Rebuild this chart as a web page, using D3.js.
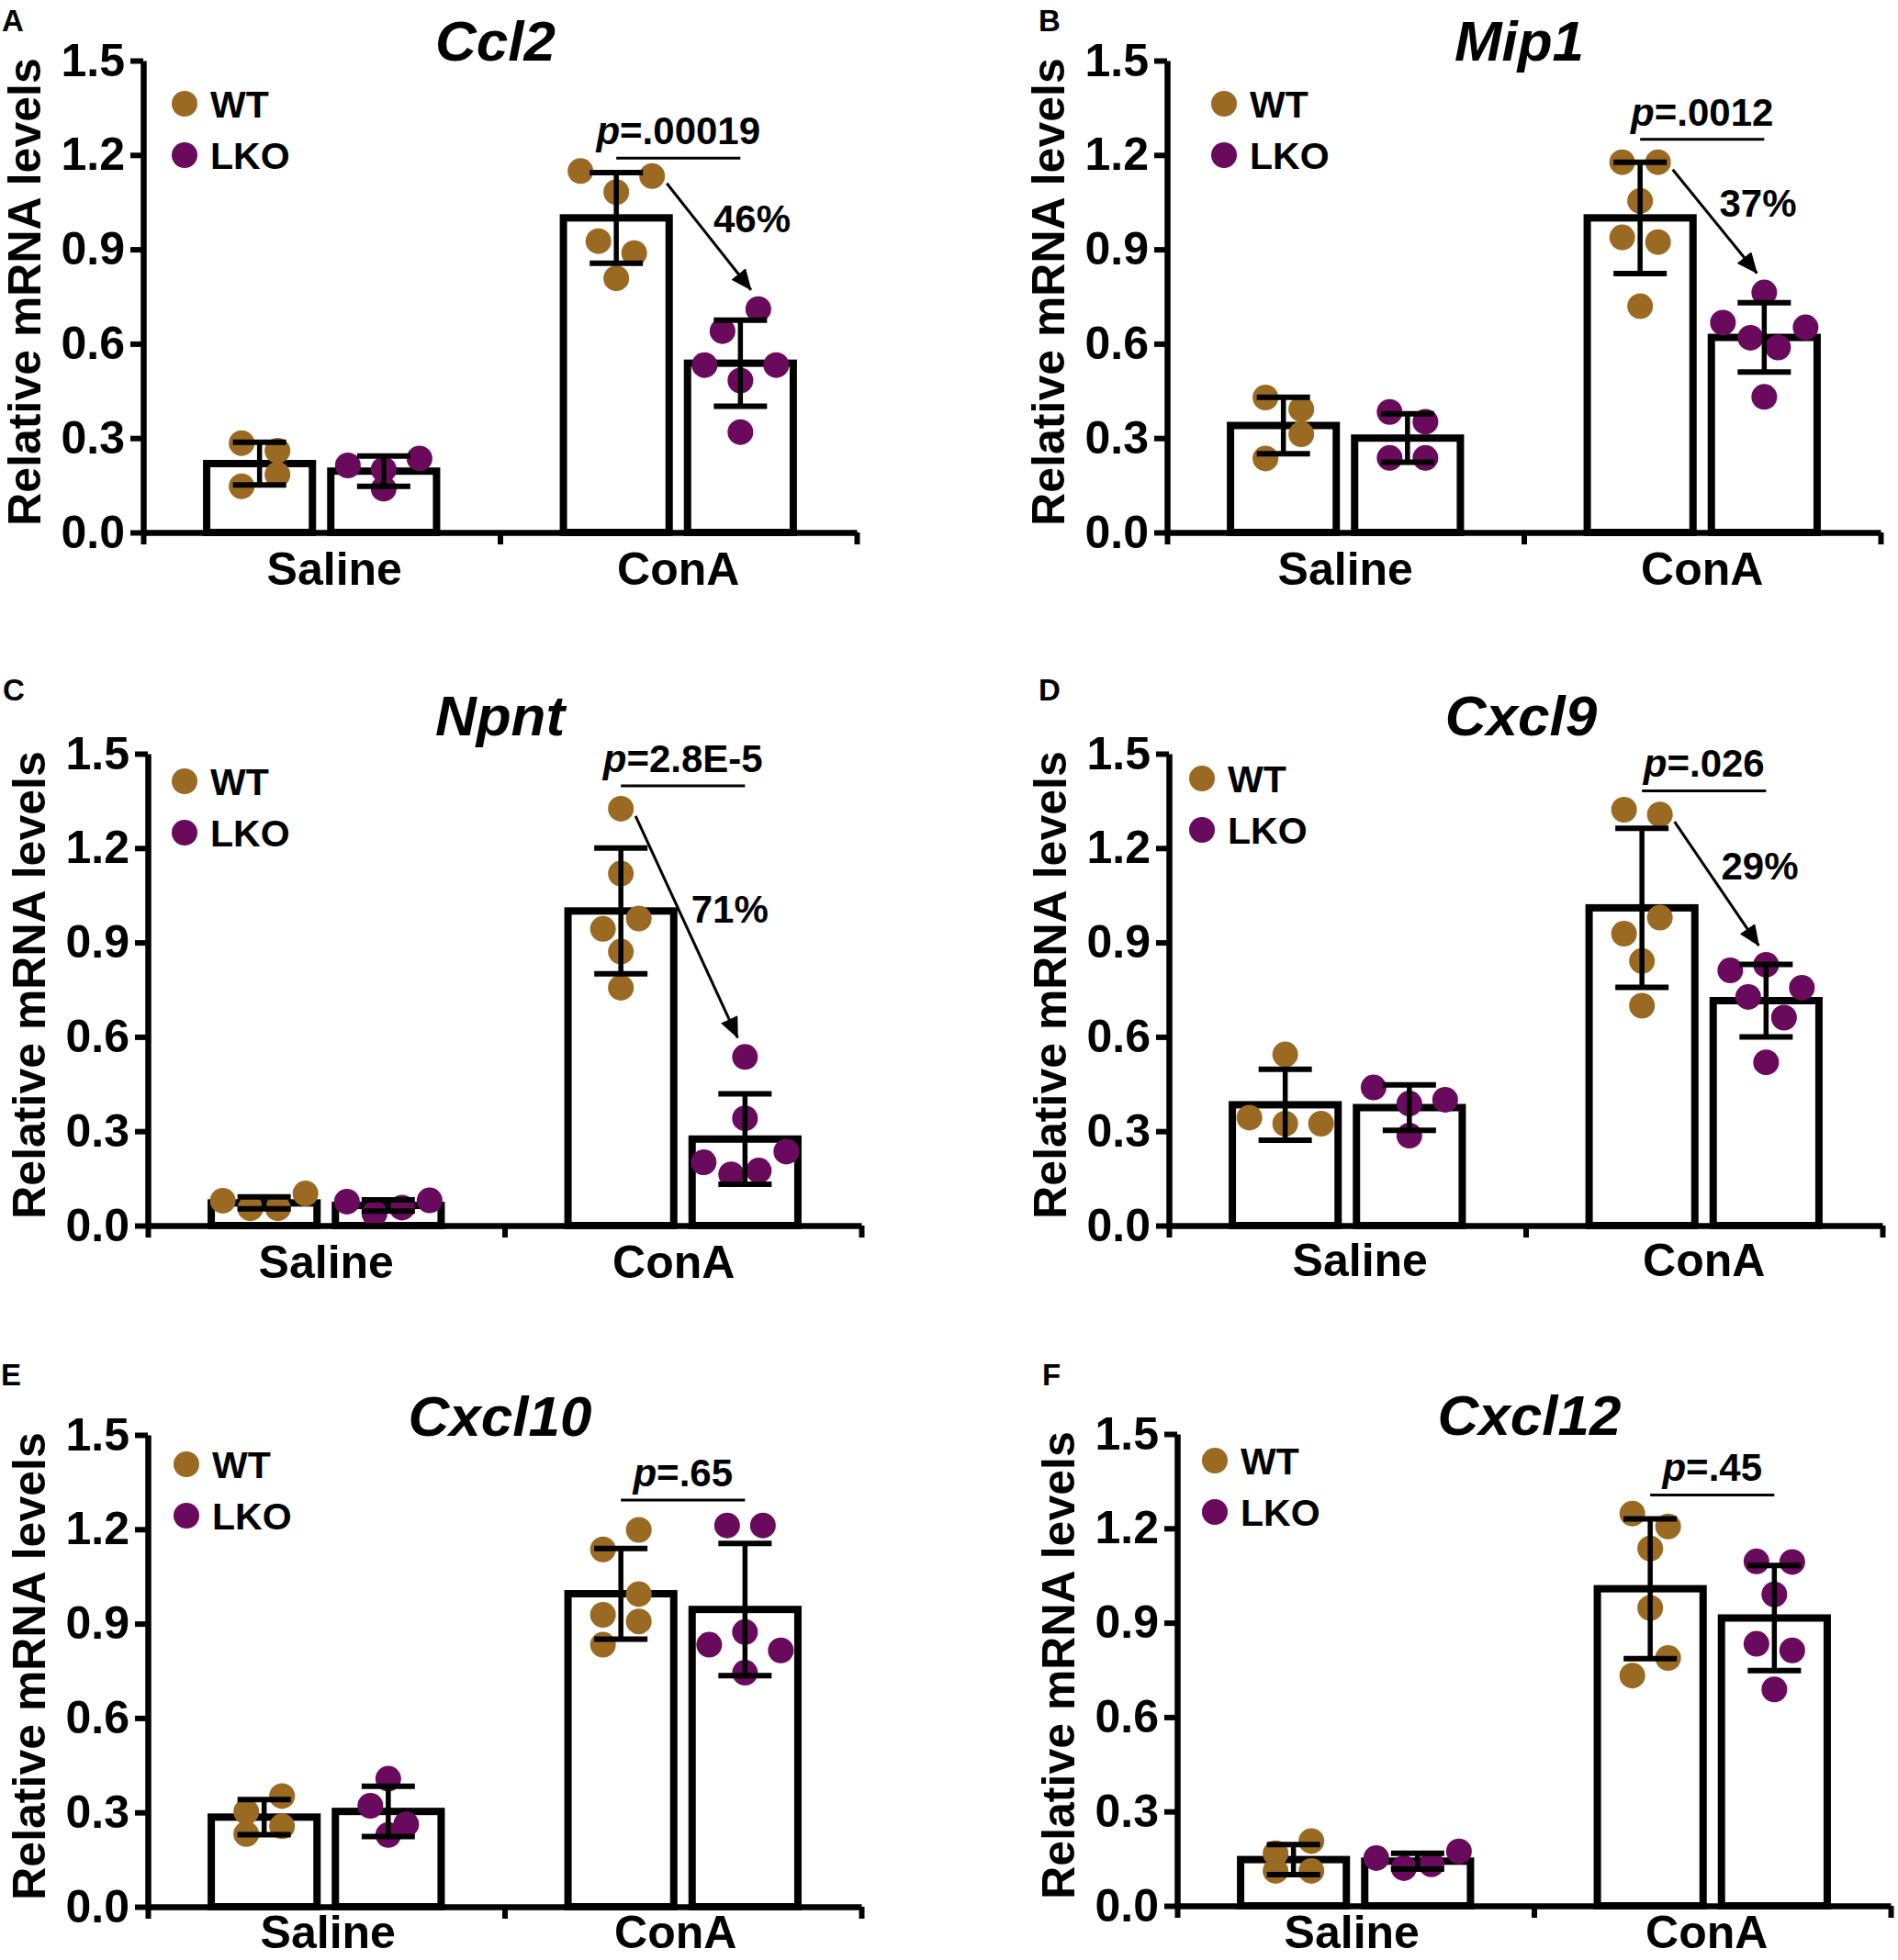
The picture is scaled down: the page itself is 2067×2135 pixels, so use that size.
<!DOCTYPE html>
<html><head><meta charset="utf-8">
<script src="https://cdn.jsdelivr.net/npm/d3@7"></script>
<style>
body{margin:0;background:#fff}
svg{display:block}
text{font-family:"Liberation Sans",Arial,sans-serif;font-weight:bold;fill:#000}
</style>
</head><body>
<svg id="chart" width="2067" height="2135"></svg>
<script>
// ---------------- DATA ----------------
const categories = ["Saline", "ConA"];
const groups = ["WT", "LKO"];
const yTicks = [0, 0.3, 0.6, 0.9, 1.2, 1.5];
const genes = ["Ccl2", "Mip1", "Npnt", "Cxcl9", "Cxcl10", "Cxcl12"];
const panelLetters = ["A", "B", "C", "D", "E", "F"];

// bar order: Saline-WT, Saline-LKO, ConA-WT, ConA-LKO
const meanCcl2 = [0.219, 0.195, 1.0, 0.538];
const sdCcl2 = [0.068, 0.048, 0.144, 0.137];
const pointsCcl2 = [[0.284, 0.260, 0.147, 0.184], [0.213, 0.200, 0.235, 0.139],
  [1.149, 1.082, 1.133, 0.926, 0.888, 0.808], [0.640, 0.710, 0.532, 0.483, 0.532, 0.319]];

const meanMip1 = [0.34, 0.30, 1.0, 0.62];
const sdMip1 = [0.09, 0.077, 0.177, 0.11];
const pointsMip1 = [[0.429, 0.392, 0.235, 0.312], [0.383, 0.352, 0.237, 0.237],
  [1.177, 1.177, 1.054, 0.938, 0.923, 0.719], [0.763, 0.667, 0.619, 0.588, 0.652, 0.431]];

const meanNpnt = [0.072, 0.064, 1.0, 0.275];
const sdNpnt = [0.019, 0.018, 0.2, 0.144];
const pointsNpnt = [[0.079, 0.055, 0.055, 0.102], [0.076, 0.038, 0.057, 0.080],
  [1.325, 1.119, 0.943, 0.976, 0.871, 0.756], [0.536, 0.341, 0.201, 0.163, 0.175, 0.235]];

const meanCxcl9 = [0.384, 0.375, 1.01, 0.715];
const sdCxcl9 = [0.1125, 0.072, 0.253, 0.115];
const pointsCxcl9 = [[0.544, 0.343, 0.324, 0.324], [0.439, 0.388, 0.400, 0.286],
  [1.322, 1.307, 0.928, 0.979, 0.841, 0.699], [0.811, 0.829, 0.756, 0.727, 0.661, 0.519]];

const meanCxcl10 = [0.285, 0.303, 0.995, 0.945];
const sdCxcl10 = [0.056, 0.08, 0.144, 0.21];
const pointsCxcl10 = [[0.302, 0.352, 0.231, 0.256], [0.407, 0.321, 0.262, 0.228],
  [1.136, 1.198, 0.928, 0.994, 0.833, 0.907], [1.212, 1.212, 0.833, 0.873, 0.815, 0.744]];

const meanCxcl12 = [0.147, 0.142, 1.008, 0.915];
const sdCxcl12 = [0.048, 0.025, 0.222, 0.167];
const pointsCxcl12 = [[0.167, 0.206, 0.111, 0.111], [0.152, 0.120, 0.132, 0.173],
  [1.247, 1.206, 1.136, 0.947, 0.732, 0.788], [1.095, 1.093, 0.99, 0.833, 0.812, 0.688]];

const pValues = [".00019", ".0012", "2.8E-5", ".026", ".65", ".45"];
const sigLevels = [1.19, 1.25, 1.398, 1.382, 1.293, 1.306];
const reductions = ["46%", "37%", "71%", "29%", "", ""];

// ---------------- LAYOUT / STYLE ----------------
const colors = {WT: "#9a6a22", LKO: "#690a5c"};
const W = 777, H = 514, R = 14;
const layout = [
  {x: 156, y: 66, lgx: 45, lgy: 47, tdy: 0, lx: 2, ly: 34, catDx: [14, 0], catDy: 57},
  {x: 1271, y: 66, lgx: 62, lgy: 47, tdy: 0, lx: 1131, ly: 34, catDx: [0, 0], catDy: 57},
  {x: 161, y: 821, lgx: 40, lgy: 30, tdy: -20, lx: 3, ly: 763, catDx: [0, -10], catDy: 57},
  {x: 1273, y: 821, lgx: 36, lgy: 27, tdy: -20, lx: 1131, ly: 763, catDx: [14, 0], catDy: 55},
  {x: 161, y: 1563, lgx: 42, lgy: 32, tdy: 1, lx: 1, ly: 1509, catDx: [2, -8], catDy: 45},
  {x: 1282, y: 1562, lgx: 41, lgy: 29, tdy: 1, lx: 1135, ly: 1509, catDx: [-4, -6], catDy: 46}
];

const panels = [
  [meanCcl2, sdCcl2, pointsCcl2], [meanMip1, sdMip1, pointsMip1],
  [meanNpnt, sdNpnt, pointsNpnt], [meanCxcl9, sdCxcl9, pointsCxcl9],
  [meanCxcl10, sdCxcl10, pointsCxcl10], [meanCxcl12, sdCxcl12, pointsCxcl12]
].map(([m, s, p], i) => ({
  gene: genes[i], letter: panelLetters[i], p: pValues[i], sig: sigLevels[i], red: reductions[i],
  bars: [0, 1, 2, 3].map(k => ({cat: categories[Math.floor(k / 2)], grp: groups[k % 2], mean: m[k], sd: s[k], pts: p[k]}))
}));

const svg = d3.select("#chart");
svg.append("rect").attr("width", 2067).attr("height", 2135).attr("fill", "#fff");
svg.append("defs").append("marker")
  .attr("id", "ah").attr("markerUnits", "userSpaceOnUse")
  .attr("markerWidth", 24).attr("markerHeight", 20)
  .attr("refX", 22).attr("refY", 10).attr("orient", "auto")
  .append("path").attr("d", "M0,0L23,10L0,20Z").attr("fill", "#000");

// beeswarm-like row layout (Prism style)
function swarm(vals, y) {
  const thr = 28.5, d = 26;
  const idx = vals.map((v, i) => i).sort((a, b) => (vals[b] - vals[a]) || (a - b));
  const offs = new Array(vals.length).fill(0);
  let i = 0;
  while (i < idx.length) {
    const start = y(vals[idx[i]]);
    const row = [idx[i]];
    let j = i + 1;
    while (j < idx.length && y(vals[idx[j]]) - start < thr) { row.push(idx[j]); j++; }
    row.sort((a, b) => a - b);
    const k = row.length;
    const s = k > 1 ? Math.min(1.5 * d, 90 / (k - 1)) : 0;
    row.forEach((id, m) => offs[id] = (m - (k - 1) / 2) * s);
    i = j;
  }
  return offs;
}

panels.forEach((P, i) => {
  const L = layout[i];
  svg.append("text").attr("x", L.lx).attr("y", L.ly).attr("font-size", 33).text(P.letter);

  const g = svg.append("g").attr("transform", `translate(${L.x},${L.y})`);
  const y = d3.scaleLinear().domain([0, 1.5]).range([H, 0]);
  const x0 = d3.scaleBand().domain(categories).range([0, W]);
  const x1 = d3.scaleBand().domain(groups).range([0, x0.bandwidth()])
    .paddingInner(0.148).paddingOuter(0.511);
  const bw = x1.bandwidth();
  const cx = b => x0(b.cat) + x1(b.grp) + bw / 2;

  // title
  g.append("text").attr("x", W / 2 - 5).attr("y", L.tdy)
    .attr("text-anchor", "middle").attr("font-size", 62).attr("font-style", "italic").text(P.gene);

  // y-axis title
  g.append("text").attr("transform", `translate(-130,${H / 2 - 5}) rotate(-90)`)
    .attr("text-anchor", "middle").attr("dy", "0.35em").attr("font-size", 50)
    .text("Relative mRNA levels");

  // bars
  g.selectAll("rect.bar").data(P.bars).join("rect").attr("class", "bar")
    .attr("x", b => x0(b.cat) + x1(b.grp)).attr("width", bw)
    .attr("y", b => y(b.mean)).attr("height", b => y(0) - y(b.mean))
    .attr("fill", "#fff").attr("stroke", "#000").attr("stroke-width", 8);

  // points
  const dots = [];
  P.bars.forEach(b => {
    const offs = swarm(b.pts, y);
    b.pts.forEach((v, k) => dots.push({grp: b.grp, cat: b.cat, v, x: cx(b) + offs[k], y: y(v)}));
  });
  g.selectAll("circle.pt").data(dots).join("circle").attr("class", "pt")
    .attr("cx", d => d.x).attr("cy", d => d.y).attr("r", R).attr("fill", d => colors[d.grp]);

  // error bars
  const eb = g.selectAll("g.eb").data(P.bars).join("g").attr("class", "eb");
  eb.append("line").attr("x1", cx).attr("x2", cx)
    .attr("y1", b => y(b.mean - b.sd)).attr("y2", b => y(b.mean + b.sd))
    .attr("stroke", "#000").attr("stroke-width", 5.5);
  [1, -1].forEach(sgn => {
    eb.append("line").attr("x1", b => cx(b) - 29).attr("x2", b => cx(b) + 29)
      .attr("y1", b => y(b.mean + sgn * b.sd)).attr("y2", b => y(b.mean + sgn * b.sd))
      .attr("stroke", "#000").attr("stroke-width", 6);
  });

  // axes
  const yAxis = d3.axisLeft(y).tickValues(yTicks).tickFormat(d3.format(".1f"))
    .tickSize(14).tickPadding(6).tickSizeOuter(0);
  const ya = g.append("g").call(yAxis);
  const xb = d3.scaleLinear().domain([0, categories.length]).range([0, W]);
  const xAxis = d3.axisBottom(xb).tickValues(d3.range(categories.length + 1))
    .tickFormat("").tickSize(13).tickSizeOuter(0);
  const xa = g.append("g").attr("transform", `translate(0,${H})`).call(xAxis);
  [ya, xa].forEach(a => {
    a.select(".domain").attr("stroke", "#000").attr("stroke-width", 6.5);
    a.selectAll(".tick line").attr("stroke", "#000").attr("stroke-width", 6);
  });
  ya.selectAll(".tick text").attr("font-size", 50).attr("fill", "#000")
    .attr("font-family", "Liberation Sans, Arial, sans-serif").attr("font-weight", "bold");

  g.selectAll("text.cat").data(categories).join("text").attr("class", "cat")
    .attr("x", (c, k) => x0(c) + x0.bandwidth() / 2 + L.catDx[k]).attr("y", H + L.catDy)
    .attr("text-anchor", "middle").attr("font-size", 50).text(c => c);

  // legend
  groups.forEach((gr, k) => {
    const ly = L.lgy + k * 56;
    g.append("circle").attr("cx", L.lgx).attr("cy", ly).attr("r", R).attr("fill", colors[gr]);
    g.append("text").attr("x", L.lgx + 28).attr("y", ly).attr("dy", "0.36em")
      .attr("font-size", 41).text(gr);
  });

  // significance
  const bWT = P.bars[2], bKO = P.bars[3];
  const sy = y(P.sig);
  g.append("line").attr("x1", cx(bWT)).attr("x2", cx(bKO)).attr("y1", sy).attr("y2", sy)
    .attr("stroke", "#000").attr("stroke-width", 3);
  const pt = g.append("text").attr("x", (cx(bWT) + cx(bKO)) / 2).attr("y", sy - 15)
    .attr("text-anchor", "middle").attr("font-size", 42);
  pt.append("tspan").attr("font-style", "italic").text("p");
  pt.append("tspan").text("=" + P.p);

  // arrow + reduction
  if (P.red) {
    const wt = dots.filter(d => d.grp === "WT" && d.cat === "ConA");
    const ko = dots.filter(d => d.grp === "LKO" && d.cat === "ConA");
    const right = wt.filter(d => d.x >= cx(bWT) - 0.01);
    const s = right.reduce((a, b) => (b.v > a.v ? b : a));
    const e = ko.reduce((a, b) => (b.v > a.v ? b : a));
    const x1a = s.x + 16, y1a = s.y + 8, x2a = e.x - 8, y2a = e.y - 21;
    g.append("line").attr("x1", x1a).attr("y1", y1a).attr("x2", x2a).attr("y2", y2a)
      .attr("stroke", "#000").attr("stroke-width", 3).attr("marker-end", "url(#ah)");
    g.append("text").attr("x", (x1a + x2a) / 2 + 47).attr("y", (y1a + y2a) / 2 - 20).attr("dy", "0.36em")
      .attr("text-anchor", "middle").attr("font-size", 42).text(P.red);
  }
});
</script>
</body></html>
